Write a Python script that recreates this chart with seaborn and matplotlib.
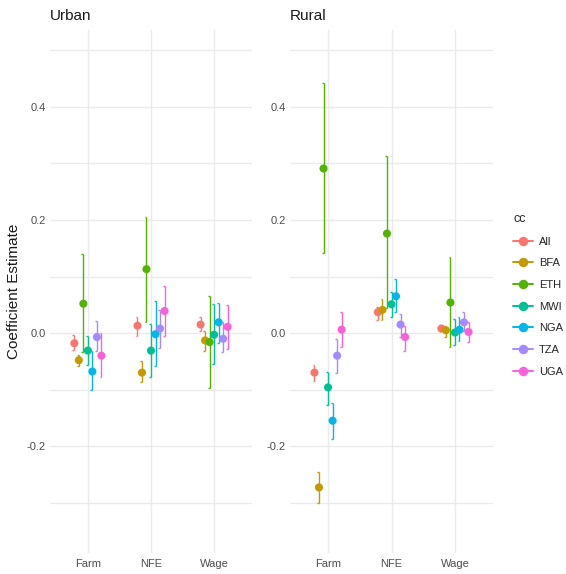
import numpy as np
import pandas as pd
import matplotlib
matplotlib.use("Agg")
import matplotlib.pyplot as plt
from matplotlib.lines import Line2D
import seaborn as sns

categories = ["Farm", "NFE", "Wage"]
countries = ["All", "BFA", "ETH", "MWI", "NGA", "TZA", "UGA"]
palette = ["#F8766D", "#C49A00", "#53B400", "#00C094", "#00B6EB", "#A58AFF", "#FB61D7"]
panels = ["Urban", "Rural"]

# estimates per country: [Farm, NFE, Wage]
urban_est = {
    "All": [-0.018, 0.013, 0.015],
    "BFA": [-0.048, -0.070, -0.013],
    "ETH": [0.052, 0.113, -0.016],
    "MWI": [-0.031, -0.031, -0.003],
    "NGA": [-0.068, -0.002, 0.019],
    "TZA": [-0.007, 0.008, -0.010],
    "UGA": [-0.040, 0.039, 0.011],
}
urban_lo = {
    "All": [-0.030, -0.005, 0.003],
    "BFA": [-0.059, -0.087, -0.031],
    "ETH": [-0.034, 0.019, -0.097],
    "MWI": [-0.057, -0.077, -0.055],
    "NGA": [-0.101, -0.059, -0.018],
    "TZA": [-0.032, -0.026, -0.034],
    "UGA": [-0.077, -0.005, -0.029],
}
urban_hi = {
    "All": [-0.004, 0.029, 0.028],
    "BFA": [-0.038, -0.050, 0.004],
    "ETH": [0.139, 0.205, 0.065],
    "MWI": [-0.005, 0.016, 0.052],
    "NGA": [-0.032, 0.056, 0.054],
    "TZA": [0.022, 0.041, 0.020],
    "UGA": [0.000, 0.083, 0.049],
}
rural_est = {
    "All": [-0.070, 0.037, 0.008],
    "BFA": [-0.273, 0.041, 0.005],
    "ETH": [0.291, 0.176, 0.054],
    "MWI": [-0.096, 0.051, 0.001],
    "NGA": [-0.155, 0.065, 0.006],
    "TZA": [-0.040, 0.015, 0.019],
    "UGA": [0.006, -0.007, 0.002],
}
rural_lo = {
    "All": [-0.084, 0.023, 0.003],
    "BFA": [-0.300, 0.023, -0.007],
    "ETH": [0.141, 0.044, -0.024],
    "MWI": [-0.127, 0.028, -0.021],
    "NGA": [-0.188, 0.037, -0.014],
    "TZA": [-0.071, -0.007, 0.003],
    "UGA": [-0.024, -0.031, -0.015],
}
rural_hi = {
    "All": [-0.056, 0.046, 0.015],
    "BFA": [-0.246, 0.061, 0.013],
    "ETH": [0.442, 0.313, 0.135],
    "MWI": [-0.068, 0.073, 0.025],
    "NGA": [-0.124, 0.095, 0.028],
    "TZA": [-0.011, 0.034, 0.037],
    "UGA": [0.037, 0.013, 0.020],
}

rows = []
for panel, est, lo, hi in [("Urban", urban_est, urban_lo, urban_hi),
                           ("Rural", rural_est, rural_lo, rural_hi)]:
    for c in countries:
        for k, cat in enumerate(categories):
            rows.append(dict(panel=panel, cc=c, outcome=cat,
                             est=est[c][k], lo=lo[c][k], hi=hi[c][k]))
df = pd.DataFrame(rows)

dodge = 0.5
n = len(countries)
cidx = {c: i for i, c in enumerate(countries)}
kidx = {k: i for i, k in enumerate(categories)}
df["x"] = df["outcome"].map(kidx) + (df["cc"].map(cidx) - (n - 1) / 2) * dodge / n

sns.set_theme(style="white")
plt.rcParams["font.family"] = ["Liberation Sans", "DejaVu Sans"]

W, H = 566, 574
fig = plt.figure(figsize=(W / 100, H / 100), dpi=100)
fig.patch.set_facecolor("white")

ylim = (-0.389, 0.536)
axes_px = {"Urban": (50, 252), "Rural": (290, 493)}
top_px, bot_px = 30, 553
cmap = dict(zip(countries, palette))

for panel in panels:
    l, r = axes_px[panel]
    ax = fig.add_axes([l / W, 1 - bot_px / H, (r - l) / W, (bot_px - top_px) / H])
    ax.set_facecolor("white")
    sub = df[df["panel"] == panel]
    ax.set_xlim(-0.6, 2.6)
    ax.set_ylim(*ylim)
    ax.set_yticks([-0.2, 0.0, 0.2, 0.4])
    ax.set_yticklabels(["-0.2", "0.0", "0.2", "0.4"])
    ax.set_yticks([-0.3, -0.1, 0.1, 0.3, 0.5], minor=True)
    ax.set_xticks(range(len(categories)))
    ax.set_xticklabels(categories)
    ax.grid(True, which="major", color="#EBEBEB", linewidth=1.0)
    ax.grid(True, which="minor", axis="y", color="#EBEBEB", linewidth=1.0)
    ax.set_axisbelow(True)
    for s in ax.spines.values():
        s.set_visible(False)
    ax.tick_params(axis="both", which="both", length=0, labelsize=8,
                   labelcolor="#4D4D4D", pad=3)
    ax.tick_params(axis="x", pad=4)
    for _, row in sub.iterrows():
        col = cmap[row["cc"]]
        ax.vlines(row["x"], row["lo"], row["hi"], color=col, linewidth=1.0, zorder=2)
        ax.hlines([row["lo"], row["hi"]], row["x"] - 0.03, row["x"],
                  color=col, linewidth=1.0, zorder=2)
    sns.scatterplot(data=sub, x="x", y="est", hue="cc", palette=palette,
                    hue_order=countries, s=34, edgecolor="none", legend=False,
                    ax=ax, zorder=3)
    ax.set_xlabel("")
    ax.set_ylabel("")
    ax.set_title(panel, loc="left", fontsize=11, color="#1A1A1A", pad=7, x=0.0)
    if panel == "Urban":
        ax.set_ylabel("Coefficient Estimate", fontsize=11, color="#1A1A1A", labelpad=4)

handles = [Line2D([0], [0], color=c, marker="o", markersize=5.8, linewidth=1.4)
           for c in palette]
leg = fig.legend(handles, countries, title="cc", loc="upper left",
                 bbox_to_anchor=(503 / W, 1 - 203 / H), frameon=False,
                 fontsize=8, title_fontsize=9, handlelength=1.8,
                 labelspacing=1.05, handletextpad=0.55)
leg._legend_box.align = "left"

fig.savefig("out.png", dpi=100, facecolor="white")
